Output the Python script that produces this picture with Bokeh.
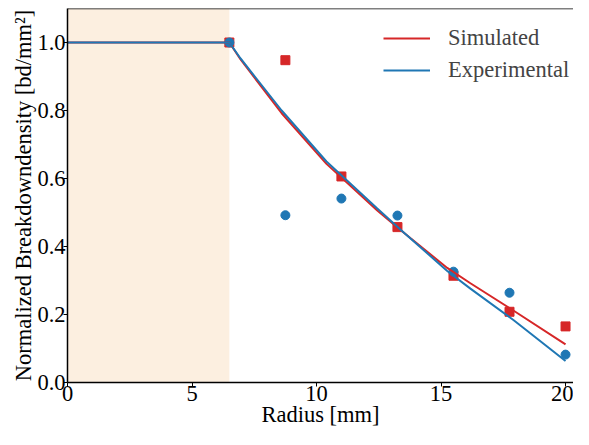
from bokeh.plotting import figure
from bokeh.models import Range1d, FixedTicker, Legend, LegendItem, BoxAnnotation, Span
from bokeh.embed import file_html
from bokeh.resources import INLINE

# ---- data ----
radius_pts = [6.5, 8.75, 11.0, 13.25, 15.5, 17.75, 20.0]
sim_pts = [1.0, 0.948, 0.606, 0.457, 0.314, 0.208, 0.165]
exp_pts = [1.0, 0.492, 0.541, 0.491, 0.326, 0.264, 0.082]

sim_curve_x = [0.0, 6.5, 6.95, 8.6, 10.4, 12.44, 13.25, 13.78, 15.25, 16.18, 17.92, 20.0]
sim_curve_y = [1.0, 1.0, 0.95, 0.792, 0.643, 0.506, 0.456, 0.424, 0.337, 0.292, 0.211, 0.112]
exp_curve_x = [0.0, 6.5, 6.95, 8.6, 10.4, 12.44, 13.4, 15.25, 16.18, 17.92, 20.0]
exp_curve_y = [1.0, 1.0, 0.953, 0.80, 0.65, 0.512, 0.448, 0.328, 0.276, 0.183, 0.063]

shade_start = 0.0
shade_end = 6.5

x_ticks = [0, 5, 10, 15, 20]
y_ticks = [0.0, 0.2, 0.4, 0.6, 0.8, 1.0]

X_MAX = 20.32
Y_MAX = 1.1

RED = "#d62728"
BLUE = "#1f77b4"
FONT = "Liberation Serif"
FS = "22.5px"

p = figure(width=573, height=429, output_backend="svg", toolbar_location=None,
           x_range=Range1d(0, X_MAX), y_range=Range1d(0, Y_MAX),
           min_border_left=67, min_border_right=0, min_border_top=8, min_border_bottom=47)
p.outline_line_color = None
p.grid.visible = False
p.background_fill_color = "white"
p.border_fill_color = "white"

p.add_layout(BoxAnnotation(left=shade_start, right=shade_end, fill_color="#fcefe0",
                           fill_alpha=1.0, line_color=None, level="underlay"))
p.add_layout(Span(location=Y_MAX, dimension="width", line_color="black", line_width=1.5))

# markers
p.scatter(radius_pts, sim_pts, marker="square", size=9, color=RED)
p.scatter(radius_pts, exp_pts, marker="circle", size=9, color=BLUE)

# curves
r_sim = p.line(sim_curve_x, sim_curve_y, line_color=RED, line_width=2)
r_exp = p.line(exp_curve_x, exp_curve_y, line_color=BLUE, line_width=2)

# axes
for ax in (p.xaxis[0], p.yaxis[0]):
    ax.major_label_text_font = FONT
    ax.major_label_text_font_size = FS
    ax.axis_label_text_font = FONT
    ax.axis_label_text_font_size = FS
    ax.axis_label_text_font_style = "normal"
    ax.major_tick_out = 4
    ax.major_tick_in = 0
    ax.minor_tick_out = 0
    ax.minor_tick_in = 0
    ax.axis_line_color = "black"
    ax.axis_line_width = 1.5
    ax.major_tick_line_color = "black"
    ax.major_label_text_color = "black"
    ax.axis_label_text_color = "black"

p.xaxis[0].ticker = FixedTicker(ticks=x_ticks)
p.yaxis[0].ticker = FixedTicker(ticks=y_ticks)
p.yaxis[0].major_label_overrides = {t: f"{t:.1f}" for t in y_ticks}
p.xaxis[0].axis_label = "Radius [mm]"
p.yaxis[0].axis_label = "Normalized Breakdowndensity [bd/mm\u00b2]"
p.xaxis[0].major_label_standoff = -1
p.yaxis[0].major_label_standoff = -2
p.xaxis[0].axis_label_standoff = -2
p.yaxis[0].axis_label_standoff = -2

legend = Legend(items=[LegendItem(label="Simulated", renderers=[r_sim]),
                       LegendItem(label="Experimental", renderers=[r_exp])],
                location=(316, 299))
legend.border_line_color = None
legend.background_fill_alpha = 0
legend.label_text_font = FONT
legend.label_text_font_size = FS
legend.glyph_width = 47
legend.glyph_height = 20
legend.label_standoff = 18
legend.spacing = 6
legend.padding = 0
legend.margin = 0
p.add_layout(legend)

open("out.html", "w").write(file_html(p, INLINE))
